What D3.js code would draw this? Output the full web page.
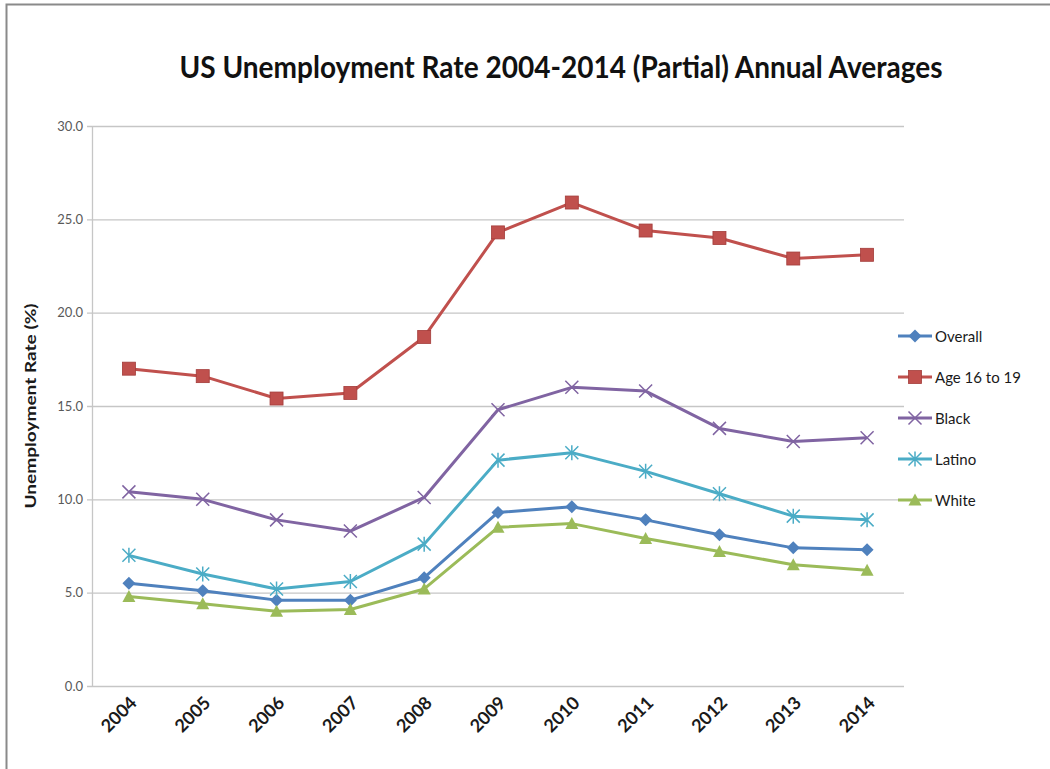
<!DOCTYPE html>
<html>
<head>
<meta charset="utf-8">
<script src="https://cdn.jsdelivr.net/npm/d3@7"></script>
<style>
  body { margin: 0; background: #fff; }
  svg { display: block; font-family: Lato, "Open Sans", sans-serif; }
</style>
</head>
<body>
<svg id="chart" width="1050" height="769"></svg>
<script>
const years = ['2004', '2005', '2006', '2007', '2008', '2009', '2010', '2011', '2012', '2013', '2014'];
const yTicks = [0, 5, 10, 15, 20, 25, 30];

const overall = [5.5, 5.1, 4.6, 4.6, 5.8, 9.3, 9.6, 8.9, 8.1, 7.4, 7.3];
const age16to19 = [17.0, 16.6, 15.4, 15.7, 18.7, 24.3, 25.9, 24.4, 24.0, 22.9, 23.1];
const black = [10.4, 10.0, 8.9, 8.3, 10.1, 14.8, 16.0, 15.8, 13.8, 13.1, 13.3];
const latino = [7.0, 6.0, 5.2, 5.6, 7.6, 12.1, 12.5, 11.5, 10.3, 9.1, 8.9];
const white = [4.8, 4.4, 4.0, 4.1, 5.2, 8.5, 8.7, 7.9, 7.2, 6.5, 6.2];

const series = [
  { name: 'Overall', values: overall, color: '#4F81BD', marker: 'diamond' },
  { name: 'Age 16 to 19', values: age16to19, color: '#C0504D', marker: 'square' },
  { name: 'Black', values: black, color: '#8064A2', marker: 'x' },
  { name: 'Latino', values: latino, color: '#4BACC6', marker: 'star' },
  { name: 'White', values: white, color: '#9BBB59', marker: 'triangle' }
];

const svg = d3.select('#chart');
const margin = { left: 92, right: 146, top: 126, bottom: 83 };
const width = 1050, height = 769;

// outer frame (only top/left show in the original)
svg.append('path')
  .attr('d', 'M6.5,769 V4.5 H1050')
  .attr('fill', 'none')
  .attr('stroke', '#8a8a8a')
  .attr('stroke-width', 2);

const x = d3.scaleBand()
  .domain(years)
  .range([margin.left, width - margin.right]);

const y = d3.scaleLinear()
  .domain([0, 30])
  .range([height - margin.bottom, margin.top]);

// gridlines
svg.append('g')
  .selectAll('line')
  .data(yTicks)
  .enter().append('line')
  .attr('x1', margin.left - 5)
  .attr('x2', width - margin.right)
  .attr('y1', d => y(d) + 0.5)
  .attr('y2', d => y(d) + 0.5)
  .attr('stroke', '#c6c6c6')
  .attr('stroke-width', 1.3);

// y axis line
svg.append('line')
  .attr('x1', margin.left + 0.5).attr('x2', margin.left + 0.5)
  .attr('y1', y(30)).attr('y2', y(0))
  .attr('stroke', '#c6c6c6')
  .attr('stroke-width', 1.3);

// y tick labels
svg.append('g')
  .selectAll('text')
  .data(yTicks)
  .enter().append('text')
  .attr('x', margin.left - 9)
  .attr('y', d => y(d) + 4.5)
  .attr('text-anchor', 'end')
  .attr('font-size', 13)
  .attr('fill', '#595959')
  .text(d => d.toFixed(1));

// x tick labels
svg.append('g')
  .selectAll('text')
  .data(years)
  .enter().append('text')
  .attr('transform', d => `translate(${x(d) + x.bandwidth() / 2 + 9},${y(0) + 18}) rotate(-45)`)
  .attr('text-anchor', 'end')
  .attr('font-size', 18)
  .attr('font-weight', 'bold')
  .attr('fill', '#1a1a1a')
  .text(d => d);

// y axis title
svg.append('text')
  .attr('transform', `translate(36,${y(15)}) rotate(-90)`)
  .attr('text-anchor', 'middle')
  .attr('font-size', 16)
  .attr('font-weight', 'bold')
  .attr('fill', '#1a1a1a')
  .attr('textLength', 205)
  .attr('lengthAdjust', 'spacingAndGlyphs')
  .text('Unemployment Rate (%)');

// title
svg.append('text')
  .attr('x', 561)
  .attr('y', 78)
  .attr('text-anchor', 'middle')
  .attr('font-size', 31)
  .attr('font-weight', 'bold')
  .attr('fill', '#111')
  .attr('textLength', 763)
  .attr('lengthAdjust', 'spacingAndGlyphs')
  .text('US Unemployment Rate 2004-2014 (Partial) Annual Averages');

function drawMarker(g, type, color) {
  if (type === 'diamond') {
    g.append('path').attr('d', 'M0,-6.5 L6.5,0 L0,6.5 L-6.5,0 Z').attr('fill', color);
  } else if (type === 'square') {
    g.append('rect').attr('x', -6.5).attr('y', -6.5).attr('width', 13).attr('height', 13)
      .attr('fill', color).attr('stroke', '#a33c3a').attr('stroke-width', 0.8);
  } else if (type === 'triangle') {
    g.append('path').attr('d', 'M0,-6.5 L6.5,5.5 L-6.5,5.5 Z').attr('fill', color);
  } else if (type === 'x') {
    g.append('path').attr('d', 'M-6.5,-6.5 L6.5,6.5 M-6.5,6.5 L6.5,-6.5')
      .attr('stroke', color).attr('stroke-width', 1.5).attr('fill', 'none');
  } else if (type === 'star') {
    g.append('path').attr('d', 'M-6.5,-6.5 L6.5,6.5 M-6.5,6.5 L6.5,-6.5 M0,-7.5 L0,7.5')
      .attr('stroke', color).attr('stroke-width', 1.5).attr('fill', 'none');
  }
}

const line = d3.line()
  .x((d, i) => x(years[i]) + x.bandwidth() / 2)
  .y(d => y(d));

series.forEach(s => {
  const g = svg.append('g');
  g.append('path')
    .attr('d', line(s.values))
    .attr('fill', 'none')
    .attr('stroke', s.color)
    .attr('stroke-width', 3)
    .attr('stroke-linejoin', 'round');
  s.values.forEach((v, i) => {
    const m = g.append('g')
      .attr('transform', `translate(${x(years[i]) + x.bandwidth() / 2},${y(v)})`);
    drawMarker(m, s.marker, s.color);
  });
});

// legend
const legend = svg.append('g').attr('transform', 'translate(898,336)');
series.forEach((s, i) => {
  const row = legend.append('g').attr('transform', `translate(0,${i * 41})`);
  row.append('line')
    .attr('x1', 0).attr('x2', 34)
    .attr('y1', 0).attr('y2', 0)
    .attr('stroke', s.color)
    .attr('stroke-width', 3);
  drawMarker(row.append('g').attr('transform', 'translate(17,0)'), s.marker, s.color);
  row.append('text')
    .attr('x', 37)
    .attr('y', 5.5)
    .attr('font-size', 15)
    .attr('fill', '#1a1a1a')
    .text(s.name);
});
</script>
</body>
</html>
